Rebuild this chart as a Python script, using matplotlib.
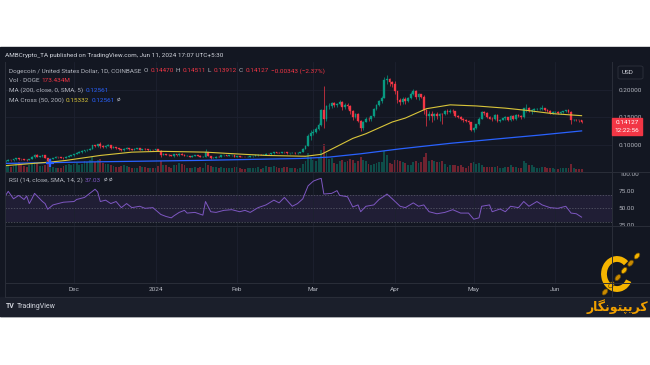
import matplotlib
matplotlib.use("Agg")
import matplotlib.pyplot as plt
from matplotlib.patches import Rectangle, Arc, Ellipse, FancyBboxPatch
from matplotlib.lines import Line2D
import numpy as np
import pandas as pd

plt.rcParams["font.family"] = ["Roboto", "DejaVu Sans"]

W, H = 650, 365  # output size in pixels

# ---- data ----
dates = pd.date_range("2023-11-05", "2024-06-11", freq="D")
first_open = 0.0700

close_nov = [0.0713, 0.0728, 0.0722, 0.0737, 0.0757, 0.0745, 0.0742, 0.0734, 0.0726, 0.0741, 0.0779, 0.0826, 0.0788,
             0.0795, 0.0812, 0.0763, 0.0715, 0.0748, 0.0762, 0.0780, 0.0776, 0.0771, 0.0765, 0.0790, 0.0805, 0.0812]
high_nov = [0.0730, 0.0741, 0.0736, 0.0745, 0.0772, 0.0765, 0.0752, 0.0748, 0.0738, 0.0752, 0.0795, 0.0838, 0.0830,
            0.0805, 0.0820, 0.0818, 0.0770, 0.0756, 0.0772, 0.0792, 0.0788, 0.0782, 0.0778, 0.0798, 0.0815, 0.0825]
low_nov = [0.0698, 0.0708, 0.0712, 0.0718, 0.0732, 0.0735, 0.0733, 0.0725, 0.0712, 0.0722, 0.0738, 0.0772, 0.0780,
           0.0782, 0.0788, 0.0758, 0.0697, 0.0712, 0.0745, 0.0758, 0.0768, 0.0762, 0.0752, 0.0760, 0.0785, 0.0798]

close_dec = [0.0838, 0.0862, 0.0876, 0.0884, 0.0905, 0.0912, 0.0934, 0.0995, 0.0978, 0.1010, 0.0985, 0.0962, 0.0987,
             0.0995, 0.0943, 0.0965, 0.0938, 0.0922, 0.0901, 0.0930, 0.0945, 0.0920, 0.0918, 0.0932, 0.0940, 0.0912,
             0.0925, 0.0921, 0.0905, 0.0910, 0.0905]
high_dec = [0.0845, 0.0870, 0.0885, 0.0905, 0.0915, 0.0925, 0.0945, 0.1005, 0.1005, 0.1020, 0.1052, 0.0995, 0.0995,
            0.1010, 0.1002, 0.0975, 0.0972, 0.0945, 0.0928, 0.0938, 0.0958, 0.0950, 0.0930, 0.0940, 0.0952, 0.0945,
            0.0935, 0.0942, 0.0925, 0.0920, 0.0918]
low_dec = [0.0805, 0.0832, 0.0852, 0.0862, 0.0875, 0.0892, 0.0905, 0.0928, 0.0965, 0.0970, 0.0942, 0.0945, 0.0950,
           0.0975, 0.0935, 0.0938, 0.0930, 0.0912, 0.0888, 0.0895, 0.0925, 0.0912, 0.0905, 0.0910, 0.0928, 0.0905,
           0.0905, 0.0908, 0.0895, 0.0898, 0.0895]

close_jan = [0.0928, 0.0895, 0.0825, 0.0838, 0.0822, 0.0817, 0.0799, 0.0832, 0.0812, 0.0840, 0.0825, 0.0800, 0.0802,
             0.0790, 0.0805, 0.0815, 0.0808, 0.0785, 0.0790, 0.0870, 0.0805, 0.0762, 0.0767, 0.0790, 0.0786, 0.0812,
             0.0818, 0.0808, 0.0812, 0.0814, 0.0790]
high_jan = [0.0935, 0.0935, 0.0905, 0.0848, 0.0842, 0.0828, 0.0822, 0.0838, 0.0840, 0.0855, 0.0862, 0.0835, 0.0812,
            0.0808, 0.0812, 0.0822, 0.0820, 0.0812, 0.0798, 0.0926, 0.0880, 0.0808, 0.0775, 0.0798, 0.0795, 0.0818,
            0.0825, 0.0822, 0.0818, 0.0825, 0.0818]
low_jan = [0.0898, 0.0885, 0.0790, 0.0815, 0.0815, 0.0805, 0.0792, 0.0788, 0.0795, 0.0805, 0.0815, 0.0792, 0.0795,
           0.0785, 0.0785, 0.0800, 0.0800, 0.0780, 0.0780, 0.0785, 0.0798, 0.0752, 0.0755, 0.0762, 0.0780, 0.0782,
           0.0805, 0.0802, 0.0800, 0.0805, 0.0785]

close_feb = [0.0798, 0.0786, 0.0782, 0.0780, 0.0785, 0.0795, 0.0803, 0.0810, 0.0820, 0.0818, 0.0822, 0.0840, 0.0830,
             0.0850, 0.0865, 0.0862, 0.0858, 0.0868, 0.0865, 0.0850, 0.0855, 0.0862, 0.0848, 0.0862, 0.0870, 0.0935,
             0.0990, 0.1165, 0.1210]
high_feb = [0.0805, 0.0802, 0.0790, 0.0788, 0.0792, 0.0800, 0.0808, 0.0815, 0.0828, 0.0828, 0.0830, 0.0848, 0.0845,
            0.0858, 0.0872, 0.0875, 0.0866, 0.0875, 0.0880, 0.0868, 0.0860, 0.0870, 0.0865, 0.0868, 0.0878, 0.0942,
            0.1008, 0.1200, 0.1280]
low_feb = [0.0782, 0.0780, 0.0776, 0.0775, 0.0776, 0.0782, 0.0790, 0.0798, 0.0805, 0.0810, 0.0812, 0.0818, 0.0822,
           0.0826, 0.0845, 0.0850, 0.0850, 0.0852, 0.0858, 0.0840, 0.0842, 0.0848, 0.0842, 0.0845, 0.0858, 0.0865,
           0.0925, 0.0985, 0.1095]

close_mar = [0.1245, 0.1290, 0.1362, 0.1640, 0.1480, 0.1700, 0.1710, 0.1765, 0.1720, 0.1745, 0.1780, 0.1690, 0.1735,
             0.1700, 0.1610, 0.1515, 0.1565, 0.1440, 0.1300, 0.1425, 0.1480, 0.1465, 0.1520, 0.1650, 0.1725, 0.1800,
             0.1860, 0.2185, 0.2195, 0.2150, 0.2115]
high_mar = [0.1285, 0.1330, 0.1400, 0.1650, 0.2080, 0.1720, 0.1765, 0.1790, 0.1775, 0.1770, 0.1820, 0.1795, 0.1760,
            0.1760, 0.1720, 0.1630, 0.1590, 0.1575, 0.1450, 0.1435, 0.1510, 0.1510, 0.1535, 0.1670, 0.1740, 0.1820,
            0.1890, 0.2230, 0.2280, 0.2210, 0.2170]
low_mar = [0.1185, 0.1220, 0.1275, 0.1340, 0.1300, 0.1440, 0.1650, 0.1680, 0.1690, 0.1690, 0.1720, 0.1640, 0.1660,
           0.1660, 0.1560, 0.1460, 0.1490, 0.1420, 0.1260, 0.1265, 0.1410, 0.1440, 0.1445, 0.1510, 0.1630, 0.1710,
           0.1760, 0.1850, 0.2100, 0.2080, 0.2060]

close_apr = [0.1985, 0.1815, 0.1775, 0.1845, 0.1795, 0.1855, 0.1925, 0.1985, 0.1870, 0.1920, 0.1880, 0.1640, 0.1530,
             0.1565, 0.1530, 0.1560, 0.1520, 0.1560, 0.1555, 0.1610, 0.1600, 0.1620, 0.1610, 0.1530, 0.1510, 0.1480,
             0.1450, 0.1430, 0.1410, 0.1275]
high_apr = [0.2160, 0.1990, 0.1860, 0.1880, 0.1870, 0.1880, 0.1965, 0.2020, 0.2000, 0.1945, 0.1935, 0.1900, 0.1660,
            0.1610, 0.1620, 0.1585, 0.1600, 0.1580, 0.1590, 0.1640, 0.1650, 0.1655, 0.1650, 0.1625, 0.1550, 0.1530,
            0.1490, 0.1470, 0.1450, 0.1425]
low_apr = [0.1935, 0.1770, 0.1720, 0.1740, 0.1745, 0.1780, 0.1840, 0.1905, 0.1830, 0.1820, 0.1860, 0.1560, 0.1340,
           0.1450, 0.1420, 0.1450, 0.1480, 0.1440, 0.1390, 0.1540, 0.1570, 0.1580, 0.1580, 0.1500, 0.1490, 0.1460,
           0.1420, 0.1410, 0.1380, 0.1250]

close_may = [0.1315, 0.1375, 0.1480, 0.1595, 0.1580, 0.1510, 0.1480, 0.1475, 0.1545, 0.1435, 0.1460, 0.1485, 0.1500,
             0.1450, 0.1535, 0.1470, 0.1540, 0.1535, 0.1500, 0.1665, 0.1665, 0.1625, 0.1635, 0.1650, 0.1655, 0.1655,
             0.1670, 0.1630, 0.1625, 0.1590, 0.1595]
high_may = [0.1330, 0.1390, 0.1500, 0.1620, 0.1615, 0.1605, 0.1530, 0.1500, 0.1560, 0.1560, 0.1475, 0.1495, 0.1520,
            0.1510, 0.1545, 0.1545, 0.1555, 0.1560, 0.1545, 0.1680, 0.1740, 0.1690, 0.1660, 0.1665, 0.1675, 0.1690,
            0.1725, 0.1680, 0.1650, 0.1640, 0.1620]
low_may = [0.1240, 0.1290, 0.1365, 0.1470, 0.1550, 0.1495, 0.1470, 0.1440, 0.1450, 0.1420, 0.1425, 0.1450, 0.1450,
           0.1430, 0.1440, 0.1455, 0.1460, 0.1510, 0.1480, 0.1490, 0.1600, 0.1600, 0.1560, 0.1600, 0.1630, 0.1630,
           0.1640, 0.1610, 0.1595, 0.1570, 0.1570]

close_jun = [0.1600, 0.1585, 0.1600, 0.1615, 0.1630, 0.1605, 0.1455, 0.1460, 0.1450, 0.14470, 0.14127]
high_jun = [0.1612, 0.1610, 0.1610, 0.1625, 0.1640, 0.1660, 0.1620, 0.1472, 0.1470, 0.1462, 0.14511]
low_jun = [0.1585, 0.1565, 0.1570, 0.1590, 0.1605, 0.1590, 0.1380, 0.1440, 0.1435, 0.1425, 0.13912]

# volume, millions of DOGE
vol_nov = [380, 420, 300, 350, 520, 560, 450, 330, 300, 380, 480, 600, 520, 340, 360, 420, 560, 400, 300, 260, 220,
           240, 330, 420, 460, 380]
vol_dec = [450, 520, 430, 480, 620, 560, 700, 850, 600, 720, 760, 520, 480, 460, 420, 330, 300, 310, 360, 380, 340,
           300, 260, 240, 250, 330, 300, 280, 260, 240, 230]
vol_jan = [260, 330, 620, 420, 380, 280, 260, 380, 420, 520, 460, 420, 240, 220, 260, 280, 240, 300, 260, 520, 380,
           360, 300, 280, 240, 300, 230, 220, 240, 260, 280]
vol_feb = [270, 250, 170, 160, 230, 220, 240, 260, 280, 200, 210, 330, 300, 280, 340, 280, 220, 230, 300, 320, 260,
           250, 230, 200, 220, 480, 620, 1100, 900]
vol_mar = [700, 620, 850, 1300, 1650, 1100, 750, 800, 550, 480, 650, 700, 600, 620, 780, 700, 500, 620, 850, 720,
           620, 480, 380, 450, 500, 560, 600, 1250, 980, 520, 480]
vol_apr = [700, 720, 620, 560, 520, 380, 420, 600, 620, 540, 560, 900, 1100, 620, 700, 650, 560, 600, 620, 480, 320,
           420, 380, 380, 360, 380, 300, 260, 340, 550]
vol_may = [600, 480, 500, 420, 280, 320, 300, 320, 300, 340, 220, 220, 300, 280, 420, 320, 300, 240, 230, 650, 520,
           380, 420, 300, 220, 250, 320, 280, 260, 260, 240]
vol_jun = [180, 200, 230, 240, 260, 250, 480, 220, 180, 200, 173.434]

# moving averages read at a few days (day index from Nov 5)
ma50_day = [0, 17, 23, 36, 48, 59, 76, 87, 99, 114, 120, 125, 132, 137, 147, 152, 160, 169, 179, 190, 198, 208, 219]
ma50_val = [0.0625, 0.0690, 0.0720, 0.0810, 0.0870, 0.0885, 0.0870, 0.0840, 0.0810, 0.0795, 0.0830, 0.0950, 0.1120,
            0.1205, 0.1418, 0.1490, 0.1660, 0.1730, 0.1710, 0.1670, 0.1630, 0.1570, 0.15332]
ma200_day = [0, 36, 74, 112, 123, 135, 150, 169, 188, 203, 219]
ma200_val = [0.0665, 0.0695, 0.0720, 0.0755, 0.0780, 0.0840, 0.0930, 0.1030, 0.1115, 0.1180, 0.12561]
cross_day, cross_val = 17, 0.0680

rsi_day = [0, 1, 3, 5, 7, 8, 9, 10, 11, 14, 15, 16, 18, 22, 26, 27, 30, 31, 33, 34, 35, 36, 38, 40, 42, 44, 46, 48,
           51, 53, 56, 59, 61, 63, 64, 66, 68, 69, 72, 75, 76, 78, 80, 83, 86, 89, 91, 93, 96, 99, 102, 104, 106, 109,
           111, 113, 115, 117, 119, 120, 121, 124, 126, 127, 130, 132, 134, 135, 137, 140, 142, 144, 145, 147, 150, 152,
           155, 157, 159, 161, 164, 167, 170, 173, 176, 178, 180, 181, 184, 185, 188, 190, 192, 195, 197, 199, 202, 204,
           207, 210, 213, 215, 217, 219]
rsi_val = [69, 75, 64, 69, 63, 68, 57, 64, 72, 60, 57, 48.6, 55, 59, 60, 63, 66, 69, 75, 78, 74, 60, 62, 57, 60, 51,
           57, 51, 53, 50, 51, 41, 38, 36, 39, 44, 47, 43, 44, 40, 60, 45, 44, 47, 48, 45, 47, 44, 51, 55, 62, 58, 66,
           53, 57, 64, 83, 90, 93, 94, 71, 72, 76, 69, 67, 52, 55, 45, 53, 55, 63, 68, 71, 64, 53, 51, 58, 53, 55, 45,
           42, 44, 48, 43, 43, 34, 36, 53, 55, 45, 49, 45, 53, 51, 60, 53, 60, 55, 51, 50, 53, 43, 42, 37.03]

closes = close_nov + close_dec + close_jan + close_feb + close_mar + close_apr + close_may + close_jun
opens = [first_open] + closes[:-1]
highs = high_nov + high_dec + high_jan + high_feb + high_mar + high_apr + high_may + high_jun
lows = low_nov + low_dec + low_jan + low_feb + low_mar + low_apr + low_may + low_jun
vols = vol_nov + vol_dec + vol_jan + vol_feb + vol_mar + vol_apr + vol_may + vol_jun

df = pd.DataFrame({"open": opens, "high": highs, "low": lows, "close": closes, "vol": vols}, index=dates)
df["x"] = np.arange(len(df))
up = df["close"] >= df["open"]

# ---- colours ----
BG = "#131722"
FOOT = "#1b1f2b"
GRID = "#1d2130"
SEP = "#2a2e39"
TXT = "#b2b5be"
UP, DOWN = "#089981", "#f23645"
BLUE, YEL, PURP = "#2962ff", "#d9c53a", "#7e57c2"


def fx(x):
    return x / W


def fy(y):
    return 1 - y / H


fig = plt.figure(figsize=(W / 100, H / 100), dpi=100, facecolor="white")
fig.patches.append(Rectangle((0, fy(316)), 1, (316 - 47) / H, transform=fig.transFigure, color=BG, zorder=-10))
fig.patches.append(Rectangle((0, fy(316)), 1, (316 - 297) / H, transform=fig.transFigure, color=FOOT, zorder=-9))

# x range: Dec 1 (index 26) sits at x=74px, 2.63 px per day
xl = (26 + (5 - 74) / 2.63, 26 + (612 - 74) / 2.63)
month_starts = df[df.index.day == 1]
tick_pos = month_starts["x"].values
tick_lab = ["2024" if d.month == 1 else d.strftime("%b") for d in month_starts.index]

ax_p = fig.add_axes([fx(5), fy(172), (612 - 5) / W, 110 / H])
ax_r = fig.add_axes([fx(5), fy(226), (612 - 5) / W, 54 / H])
ax_e = fig.add_axes([fx(5), fy(283), (612 - 5) / W, 57 / H])

# volume underneath the candles (twin axis made first, then price ticks moved right)
ax_v = ax_p.twinx()
ax_v.set_ylim(0, 6400)
ax_v.axis("off")
ax_v.bar(df["x"], df["vol"], width=0.7, color=np.where(up, UP, DOWN), alpha=0.42, lw=0)
ax_p.set_zorder(ax_v.get_zorder() + 1)
ax_p.patch.set_visible(False)
ax_v.patch.set_visible(False)
fig.patches.append(Rectangle((fx(5), fy(172)), (612 - 5) / W, 110 / H, transform=fig.transFigure, color=BG, zorder=-5))

for a in (ax_p, ax_r, ax_e):
    if a is not ax_p:
        a.set_facecolor(BG)
    for s in a.spines.values():
        s.set_visible(False)
    a.set_xlim(*xl)
    a.set_xticks(tick_pos)
    a.grid(True, axis="x", color=GRID, lw=0.6)
    a.tick_params(length=0, labelsize=4.6, colors=TXT)
    a.yaxis.tick_right()
    a.yaxis.set_label_position("right")
ax_v.set_xlim(*xl)

ax_p.set_xticklabels([])
ax_r.set_xticklabels([])
ax_e.set_xticklabels(tick_lab)
ax_e.tick_params(axis="x", pad=3)
ax_e.set_yticks([])

# price pane
ax_p.set_ylim(0.0509, 0.2509)
ax_p.set_yticks([0.10, 0.15, 0.20])
ax_p.set_yticklabels(["%.5f" % v for v in [0.10, 0.15, 0.20]])
ax_p.tick_params(axis="y", pad=5)
ax_p.grid(True, axis="y", color=GRID, lw=0.6)
ax_p.vlines(df["x"], df["low"], df["high"], colors=np.where(up, UP, DOWN), lw=0.5, zorder=3)
ax_p.bar(df["x"], (df["close"] - df["open"]).abs(), bottom=df[["open", "close"]].min(axis=1), width=0.68,
         color=np.where(up, UP, DOWN), edgecolor=np.where(up, UP, DOWN), lw=0.25, zorder=4)
ax_p.plot(ma200_day, ma200_val, color=BLUE, lw=0.9, zorder=5)
ax_p.plot(ma50_day, ma50_val, color=YEL, lw=0.8, zorder=5)
ax_p.plot([cross_day], [cross_val], marker="+", ms=6, mew=1.6, color=BLUE, zorder=6)

# RSI pane
ax_r.set_ylim(24.0, 103.4)
ax_r.set_yticks([100, 75, 50, 25])
ax_r.set_yticklabels(["%.2f" % v for v in [100, 75, 50, 25]])
ax_r.tick_params(axis="y", pad=5)
ax_r.axhspan(30, 70, color=PURP, alpha=0.12, lw=0)
for lvl in (70, 50, 30):
    ax_r.axhline(lvl, color="#787b86", lw=0.5, ls=(0, (2, 2)), alpha=0.7)
ax_r.plot(rsi_day, rsi_val, color=PURP, lw=0.7)

# separators
for y0 in (172, 226, 283):
    fig.lines.append(Line2D([fx(5), 1], [fy(y0), fy(y0)], transform=fig.transFigure, color=SEP, lw=0.7))
fig.lines.append(Line2D([fx(612), fx(612)], [fy(62), fy(297)], transform=fig.transFigure, color=SEP, lw=0.7))
fig.lines.append(Line2D([fx(5), 1], [fy(297), fy(297)], transform=fig.transFigure, color=SEP, lw=0.7))
fig.lines.append(Line2D([fx(5), fx(5)], [fy(62), fy(297)], transform=fig.transFigure, color=SEP, lw=0.7))

# ---- texts ----
fig.canvas.draw()
rend = fig.canvas.get_renderer()


def put(x, y, parts, size=4.6, gap=2.2, **kw):
    for s, c in parts:
        t = fig.text(fx(x), fy(y), s, color=c, fontsize=size, va="center", ha="left", **kw)
        x += t.get_window_extent(rend).width + gap


put(5, 55, [("AMBCrypto_TA published on TradingView.com, Jun 11, 2024 17:07 UTC+5:30", "#d1d4dc")], size=4.6)
put(9, 71, [("Dogecoin / United States Dollar, 1D, COINBASE", TXT), ("O", TXT), ("0.14470", DOWN),
            ("H", TXT), ("0.14511", DOWN), ("L", TXT), ("0.13912", DOWN), ("C", TXT), ("0.14127", DOWN),
            ("\u22120.00343 (\u22122.37%)", DOWN)])
put(9, 81, [("Vol \u00b7 DOGE", TXT), ("173.434M", DOWN)])
put(9, 90.5, [("MA (200, close, 0, SMA, 5)", TXT), ("0.12561", BLUE)])
put(9, 100, [("MA Cross (50, 200)", TXT), ("0.15332", YEL), ("0.12561", BLUE), ("\u00f8", TXT)])
put(9, 180.5, [("RSI (14, close, SMA, 14, 2)", TXT), ("37.03", PURP), ("\u00f8", TXT), ("\u00f8", TXT)])

# USD box
fig.patches.append(FancyBboxPatch((fx(618), fy(79)), 25 / W, 13 / H, boxstyle="round,pad=0,rounding_size=0.004",
                                  transform=fig.transFigure, fc=BG, ec=SEP, lw=0.7))
put(622, 72.5, [("USD", "#d1d4dc")], size=4.6)

# last price tag
fig.patches.append(Rectangle((fx(612), fy(135)), 30 / W, 17 / H, transform=fig.transFigure, color=DOWN, zorder=5))
fig.text(fx(627), fy(122.5), "0.14127", color="white", fontsize=4.6, ha="center", va="center", zorder=6)
fig.text(fx(627), fy(130.5), "12:22:56", color="white", fontsize=4.6, ha="center", va="center", zorder=6)

# footer
put(6, 306, [("TV", "#d1d4dc")], size=5, gap=1.5, fontweight="bold")
put(17, 306, [("TradingView", "#d1d4dc")], size=5)

# logo: gold "C" with chain and Persian name
GOLD = "#f5b400"
logo = fig.add_axes([fx(596), fy(297), 46 / W, 46 / H])
logo.set_xlim(0, 46)
logo.set_ylim(0, 46)
logo.axis("off")
logo.add_patch(Arc((21, 23), 26, 30, theta1=50, theta2=330, color=GOLD, lw=4.2))
for i, t in enumerate(np.linspace(0, 1, 6)):
    cx, cy = 9 + t * 32, 5 + t * 36
    logo.add_patch(Ellipse((cx, cy), 7, 4.2, angle=50, fc=GOLD if i % 2 else "#c98a00", ec="#6b4a00", lw=0.5))
fig.text(fx(617), fy(306.5), "\uFEAD\uFE8E\uFB95\uFEE7\uFEEE\uFE98\uFB59\uFBFE\uFEAE\uFB90",
         family=["DejaVu Sans"], fontweight="bold", fontsize=9, color="#f0a000", ha="center", va="center")

fig.savefig("out.png", dpi=100, facecolor="white")
